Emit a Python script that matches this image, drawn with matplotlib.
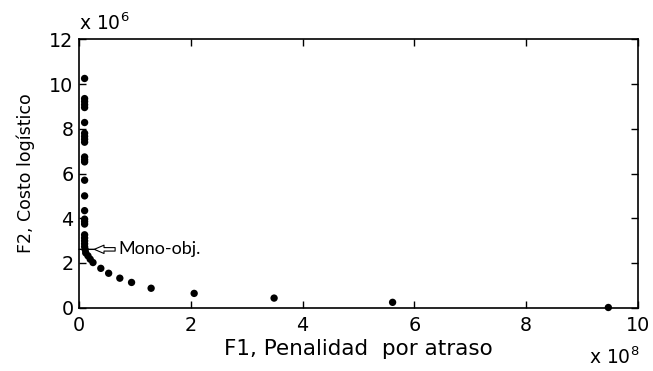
import matplotlib
matplotlib.use('Agg')
import matplotlib.pyplot as plt
from matplotlib.transforms import offset_copy

# Data (F1 in units of 1e8, F2 in units of 1e6)
f1 = [0.10, 0.10, 0.10, 0.10, 0.10, 0.10, 0.10, 0.10, 0.10, 0.10,
      0.10, 0.10, 0.10, 0.10, 0.10, 0.10, 0.10, 0.10, 0.10, 0.10,
      0.10, 0.10, 0.10, 0.10, 0.11, 0.12, 0.16, 0.20, 0.25, 0.39,
      0.53, 0.73, 0.94, 1.29, 2.06, 3.49, 5.61, 9.47]
f2 = [10.25, 9.35, 9.22, 9.08, 8.95, 8.28, 7.80, 7.66, 7.53, 7.40,
      6.74, 6.62, 6.52, 5.70, 5.00, 4.34, 3.96, 3.85, 3.74, 3.26,
      3.12, 2.99, 2.86, 2.73, 2.60, 2.45, 2.32, 2.17, 2.02, 1.76,
      1.54, 1.32, 1.13, 0.87, 0.64, 0.43, 0.24, 0.01]
mono_f2 = 2.61
mono_label = 'Mono-obj.'

x_ticks = [0, 2, 4, 6, 8, 10]
y_ticks = [0, 2, 4, 6, 8, 10, 12]
x_label = 'F1, Penalidad  por atraso'
y_label = 'F2, Costo logístico'

plt.rcParams['font.family'] = ['DejaVu Sans']

fig = plt.figure(figsize=(6.53, 3.71), dpi=100)
ax = fig.add_axes([0.121, 0.1706, 0.856, 0.7234])

ax.scatter(f1, f2, s=28, c='black', edgecolors='none', zorder=3, clip_on=False)

ax.set_xlim(0, 10)
ax.set_ylim(0, 12)
ax.set_xticks(x_ticks)
ax.set_yticks(y_ticks)
ax.set_xticklabels([str(t) for t in x_ticks])
ax.set_yticklabels([str(t) for t in y_ticks])

ax.tick_params(direction='in', top=True, right=True, length=5, width=1,
               labelsize=13.8, colors='black')
ax.tick_params(axis='x', pad=6)
ax.tick_params(axis='y', pad=4)
for s in ax.spines.values():
    s.set_linewidth(1.2)

ax.set_xlabel(x_label, fontsize=15.5, labelpad=3)
ax.set_ylabel(y_label, fontsize=12.5, labelpad=10)

# exponent texts
fig.text(0.121, 0.919, r'x 10$^{6}$', fontsize=13.5, ha='left', va='baseline')
fig.text(0.980, 0.019, r'x 10$^{8}$', fontsize=13.5, ha='right', va='baseline')

# Mono-objective annotation: line from axis, hollow arrow, label
tip = offset_copy(ax.transData, fig=fig, x=11, y=0, units='points')
ax.annotate('', xy=(0, mono_f2), xycoords=tip, xytext=(-11, 0),
            textcoords='offset points',
            arrowprops=dict(arrowstyle='-', lw=1.0, color='black',
                            shrinkA=0, shrinkB=0), zorder=4)
ax.annotate('', xy=(0, mono_f2), xycoords=tip, xytext=(15, 0),
            textcoords='offset points',
            arrowprops=dict(arrowstyle='simple,head_length=0.7,head_width=0.6,tail_width=0.25',
                            fc='white', ec='black', lw=0.8,
                            shrinkA=0, shrinkB=0, mutation_scale=10), zorder=4)
ax.annotate(mono_label, xy=(0, mono_f2), xytext=(28, 0),
            textcoords='offset points', va='center', ha='left',
            fontsize=13, fontfamily='Lato')

fig.savefig('out.png', dpi=100)
